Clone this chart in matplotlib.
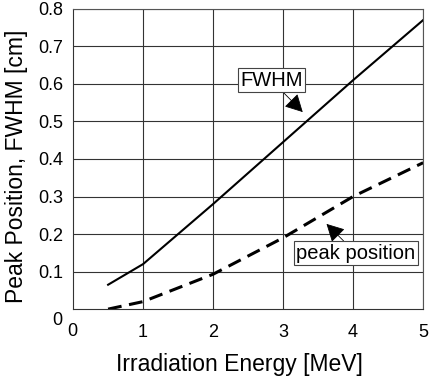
import numpy as np
import matplotlib.pyplot as plt

plt.rcParams['font.family'] = ['Liberation Sans', 'DejaVu Sans']

# values
energy = [0.5, 1, 2, 3, 4, 5]
fwhm = [0.065, 0.12, 0.28, 0.445, 0.61, 0.77]
peak_pos = [0.0, 0.02, 0.093, 0.19, 0.30, 0.39]

xticks = [1, 2, 3, 4, 5]
yticks = [0.1, 0.2, 0.3, 0.4, 0.5, 0.6, 0.7, 0.8]

fig = plt.figure(figsize=(4.3, 3.84), dpi=100)
ax = fig.add_axes([0.170, 0.195, 0.814, 0.782])

ax.plot(energy, fwhm, color='black', lw=1.5)
ax.plot(energy, peak_pos, color='black', lw=2.2, dashes=(4.5, 2.5))

ax.set_xlim(0, 5)
ax.set_ylim(0, 0.8)
ax.set_xticks(xticks)
ax.set_yticks(yticks)
ax.set_yticklabels([f"{v:.1f}" for v in yticks])
ax.tick_params(length=0, labelsize=13)
ax.tick_params(axis='x', pad=11)
ax.tick_params(axis='y', pad=7)
ax.grid(True, color='#333333', lw=0.8)

for s in ['top', 'right']:
    ax.spines[s].set_linestyle((0, (1, 1)))
    ax.spines[s].set_color('#555555')
for s in ['left', 'bottom']:
    ax.spines[s].set_color('#333333')

# the lonely zeros at the origin
ax.text(-0.045, -0.037, "0", transform=ax.transAxes, fontsize=13, ha='center', va='center')
ax.text(-0.003, -0.073, "0", transform=ax.transAxes, fontsize=13, ha='center', va='center')

ax.set_xlabel("Irradiation Energy [MeV]", fontsize=16.5)
ax.set_ylabel("Peak Position, FWHM [cm]", fontsize=16.5)
ax.xaxis.set_label_coords(0.475, -0.145)
ax.yaxis.set_label_coords(-0.13, 0.475)

box = dict(boxstyle='square,pad=0.12', fc='white', ec='#444444', lw=0.8)
arrow = dict(arrowstyle='-|>,head_length=0.75,head_width=0.4', color='black', lw=0.6,
             shrinkA=0, shrinkB=0)
ax.annotate("FWHM", xy=(3.28, 0.525), xytext=(2.83, 0.61), fontsize=14.5,
            ha='center', va='center', bbox=box, arrowprops=arrow)
ax.annotate("peak position", xy=(3.62, 0.227), xytext=(4.04, 0.149), fontsize=14.5,
            ha='center', va='center', bbox=box, arrowprops=arrow)

plt.savefig("out.png", dpi=100)
